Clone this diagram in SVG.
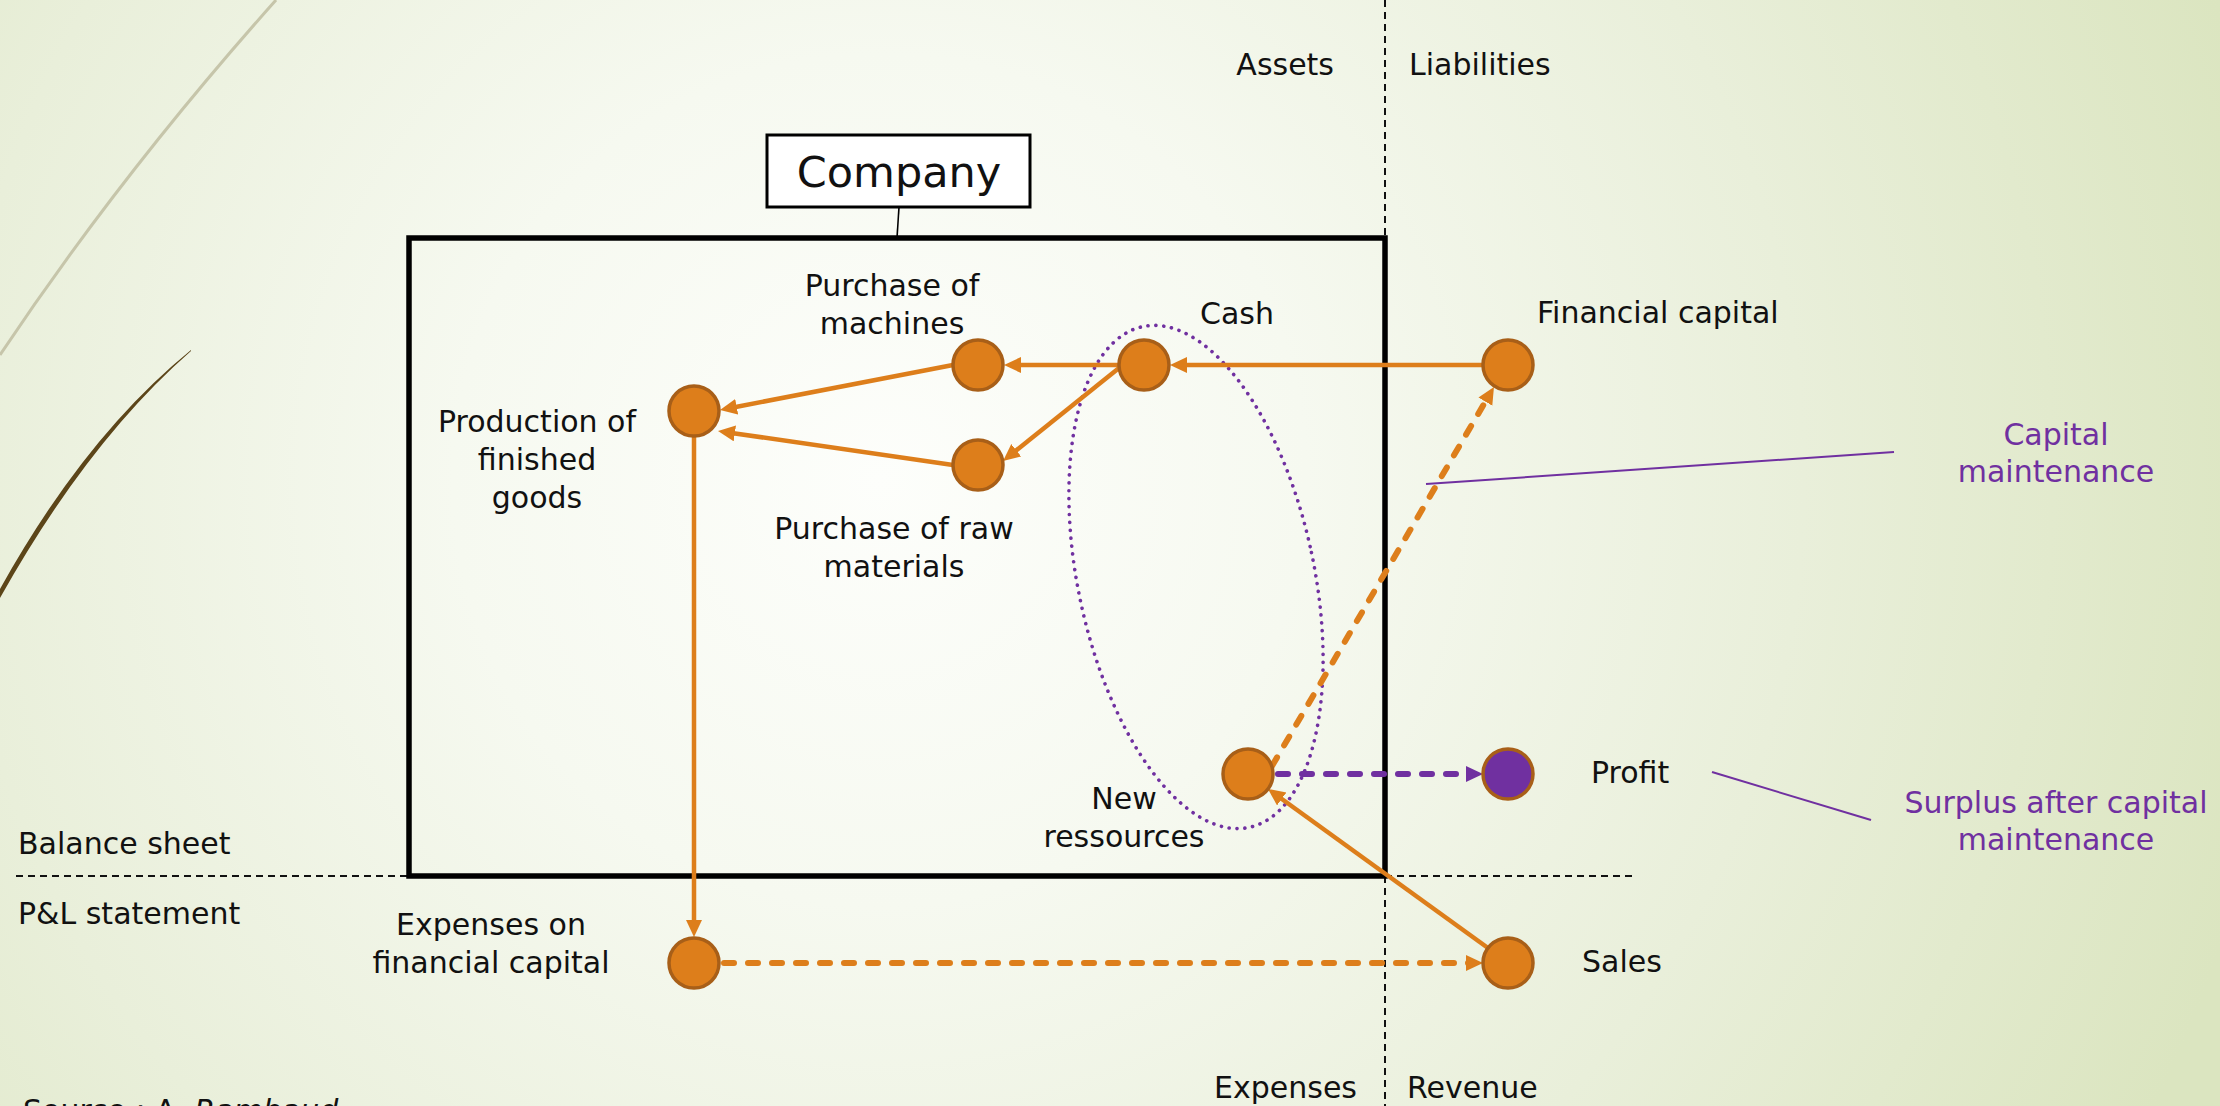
<svg xmlns="http://www.w3.org/2000/svg" width="2220" height="1106" viewBox="0 0 2220 1106">
  <defs>
    <radialGradient id="bg" gradientUnits="userSpaceOnUse" cx="880" cy="480" r="1420">
      <stop offset="0" stop-color="#fdfefb"/>
      <stop offset="0.3" stop-color="#f6f9f0"/>
      <stop offset="0.65" stop-color="#e9efda"/>
      <stop offset="1" stop-color="#dbe5c0"/>
    </radialGradient>
    <marker id="arrow-orange" markerUnits="userSpaceOnUse" markerWidth="20" markerHeight="18" refX="5" refY="8" orient="auto">
      <path d="M0,0 L17,8 L0,16 Z" fill="#dd7e1b"/>
    </marker>
    <marker id="arrow-purple" markerUnits="userSpaceOnUse" markerWidth="20" markerHeight="18" refX="5" refY="8" orient="auto">
      <path d="M0,0 L17,8 L0,16 Z" fill="#7030a0"/>
    </marker>
  </defs>
  <style>
    text { font-family: "DejaVu Sans", "Liberation Sans", sans-serif; font-size: 30px; fill: #111; }
    .mid { text-anchor: middle; }
    .end { text-anchor: end; }
    .note { fill: #7030a0; }
    .node { fill: #dd7e1b; stroke: #a85f18; stroke-width: 3.5; }
    .node-purple { fill: #7030a0; stroke: #a85f18; stroke-width: 3.5; }
    .flow { fill: none; stroke: #dd7e1b; stroke-width: 4.5; marker-end: url(#arrow-orange); }
    .flow-dash { fill: none; stroke: #dd7e1b; stroke-width: 6; stroke-dasharray: 10 14; stroke-linecap: round; marker-end: url(#arrow-orange); }
    .flow-purple { fill: none; stroke: #7030a0; stroke-width: 6; stroke-dasharray: 10 14; stroke-linecap: round; marker-end: url(#arrow-purple); }
    .divider { fill: none; stroke: #111; stroke-width: 2; stroke-dasharray: 7 5; }
    .leader { fill: none; stroke: #7030a0; stroke-width: 2; }
  </style>

  <!-- background -->
  <rect x="0" y="0" width="2220" height="1106" fill="url(#bg)"/>
  <path d="M276 0 Q120 175 0 355" fill="none" stroke="#c6c5aa" stroke-width="3"/>
  <path d="M191 350 Q85 436 0 589 L0 598 Q88 441 191 351 Z" fill="#5c4519"/>

  <!-- statement dividers -->
  <g id="dividers">
    <line class="divider" x1="1385" y1="0" x2="1385" y2="238" stroke-dasharray="6 6" stroke-width="1.6"/>
    <line class="divider" x1="1385" y1="876" x2="1385" y2="1106" stroke-dasharray="6 6" stroke-width="1.6"/>
    <line class="divider" x1="16" y1="876" x2="409" y2="876"/>
    <line class="divider" x1="1385" y1="876" x2="1636" y2="876"/>
  </g>

  <!-- company boundary -->
  <g id="company">
    <rect x="409" y="238" width="976" height="638" fill="none" stroke="#000" stroke-width="5.5"/>
    <line x1="899" y1="207" x2="897" y2="238" stroke="#000" stroke-width="1.6"/>
    <rect x="767" y="135" width="263" height="72" fill="#fff" stroke="#000" stroke-width="3"/>
    <text class="mid" x="899" y="187" style="font-size:43px">Company</text>
  </g>

  <!-- column and row headings -->
  <g id="headings">
    <text class="end" x="1334" y="75">Assets</text>
    <text x="1409" y="75">Liabilities</text>
    <text x="18" y="854">Balance sheet</text>
    <text x="18" y="924">P&amp;L statement</text>
    <text class="end" x="1357" y="1098">Expenses</text>
    <text x="1407" y="1098">Revenue</text>
    <text x="23" y="1121">Source : A. <tspan font-style="italic">Rambaud</tspan></text>
  </g>

  <!-- capital maintenance zone -->
  <g id="capital-zone">
    <ellipse cx="1196" cy="577" rx="118" ry="256" transform="rotate(-12 1196 577)" fill="none" stroke="#7030a0" stroke-width="3.6" stroke-dasharray="0.1 7.8" stroke-linecap="round"/>
  </g>

  <!-- connectors -->
  <g id="connectors">
    <line class="flow" x1="1483" y1="365" x2="1182" y2="365"/>
    <line class="flow" x1="1118" y1="365" x2="1016" y2="365"/>
    <line class="flow" x1="1119" y1="368" x2="1012.4" y2="453.4"/>
    <line class="flow" x1="953" y1="365" x2="731.8" y2="407.7"/>
    <line class="flow" x1="953" y1="465" x2="729.9" y2="432.7"/>
    <line class="flow" x1="694" y1="436" x2="694" y2="925"/>
    <line class="flow" x1="1488" y1="948" x2="1277.7" y2="796.0"/>
    <line class="flow-dash" x1="724" y1="963" x2="1471" y2="963"/>
    <line class="flow-dash" x1="1272" y1="766" x2="1487.9" y2="397.3"/>
    <line class="flow-purple" x1="1278" y1="774" x2="1471" y2="774"/>
    <line class="leader" x1="1426" y1="484" x2="1894" y2="452"/>
    <line class="leader" x1="1712" y1="772" x2="1871" y2="820"/>
  </g>

  <!-- nodes -->
  <g id="node-financial-capital">
    <circle class="node" cx="1508" cy="365" r="25"/>
    <text x="1537" y="323">Financial capital</text>
  </g>
  <g id="node-cash">
    <circle class="node" cx="1144" cy="365" r="25"/>
    <text x="1200" y="324">Cash</text>
  </g>
  <g id="node-machines">
    <circle class="node" cx="978" cy="365" r="25"/>
    <text class="mid" x="892" y="296">Purchase of</text>
    <text class="mid" x="892" y="334">machines</text>
  </g>
  <g id="node-raw-materials">
    <circle class="node" cx="978" cy="465" r="25"/>
    <text class="mid" x="894" y="539">Purchase of raw</text>
    <text class="mid" x="894" y="577">materials</text>
  </g>
  <g id="node-production">
    <circle class="node" cx="694" cy="411" r="25"/>
    <text class="mid" x="537" y="432">Production of</text>
    <text class="mid" x="537" y="470">finished</text>
    <text class="mid" x="537" y="508">goods</text>
  </g>
  <g id="node-new-resources">
    <circle class="node" cx="1248" cy="774" r="25"/>
    <text class="mid" x="1124" y="809">New</text>
    <text class="mid" x="1124" y="847">ressources</text>
  </g>
  <g id="node-profit">
    <circle class="node-purple" cx="1508" cy="774" r="25"/>
    <text x="1591" y="783">Profit</text>
  </g>
  <g id="node-expenses">
    <circle class="node" cx="694" cy="963" r="25"/>
    <text class="mid" x="491" y="935">Expenses on</text>
    <text class="mid" x="491" y="973">financial capital</text>
  </g>
  <g id="node-sales">
    <circle class="node" cx="1508" cy="963" r="25"/>
    <text x="1582" y="972">Sales</text>
  </g>

  <!-- annotations -->
  <g id="note-capital-maintenance">
    <text class="mid note" x="2056" y="445">Capital</text>
    <text class="mid note" x="2056" y="482">maintenance</text>
  </g>
  <g id="note-surplus">
    <text class="mid note" x="2056" y="813">Surplus after capital</text>
    <text class="mid note" x="2056" y="850">maintenance</text>
  </g>
</svg>
